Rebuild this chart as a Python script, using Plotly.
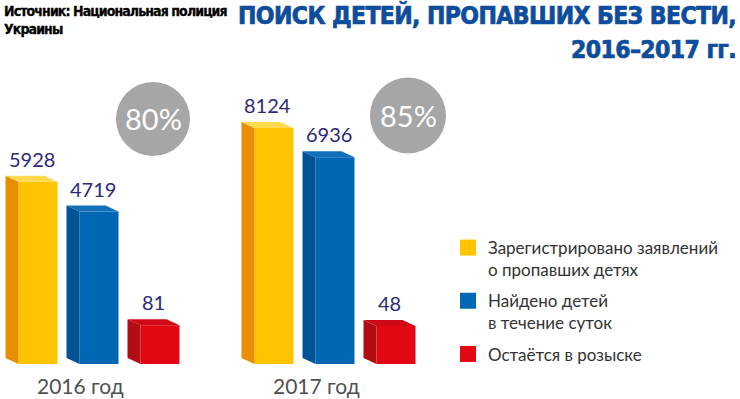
import plotly.graph_objects as go

# ---- data ----
years = ["2016 год", "2017 год"]
series_names = [
    "Зарегистрировано заявлений<br>о пропавших детях",
    "Найдено детей<br>в течение суток",
    "Остаётся в розыске",
]
registered = [5928, 8124]
found = [4719, 6936]
wanted = [81, 48]
series_values = [registered, found, wanted]

title_lines = ["ПОИСК ДЕТЕЙ, ПРОПАВШИХ БЕЗ ВЕСТИ,", "2016–2017 гг."]
source_text = "Источник: Национальная полиция<br>Украины"

# ---- styles ----
front_cols = ["rgb(255,196,0)", "rgb(0,104,178)", "rgb(227,6,19)"]
side_cols = ["rgb(232,142,0)", "rgb(0,84,150)", "rgb(180,12,20)"]
top_cols = ["rgb(255,218,80)", "rgb(18,112,186)", "rgb(205,10,22)"]
num_col = "rgb(43,41,120)"
title_col = "rgb(14,76,156)"
sans = "Lato, Open Sans, sans-serif"
cond = "DejaVu Sans Condensed, Liberation Sans Narrow, sans-serif"

W, H = 740, 399
MB = 30
PH = H - MB
PX_PER_X = 236.0          # pixels per category unit
X0_PX = 99.0              # pixel of first category centre
FLOOR = -1500.0           # visual floor of the bars (hidden axis)
FLOOR_PX = 364.0
TOP_REF_PX = 128.0        # pixel of the tallest bar's top
UPP = (max(registered) - FLOOR) / (FLOOR_PX - TOP_REF_PX)  # units per pixel
Y_HI = FLOOR + FLOOR_PX * UPP
Y_LO = FLOOR - (PH - FLOOR_PX) * UPP

bar_w = 39 / PX_PER_X
pitch = 61 / PX_PER_X
dx = 13 / PX_PER_X        # depth to the left
dy = 6 * UPP              # depth upward

fig = go.Figure()
for i, (name, vals) in enumerate(zip(series_names, series_values)):
    off = (i - 1) * pitch - bar_w / 2
    fig.add_trace(go.Bar(
        x=list(range(len(years))), y=[v - FLOOR for v in vals], base=FLOOR,
        offset=off, width=bar_w, name=name, legendgroup=str(i), showlegend=False,
        marker=dict(color=front_cols[i], line=dict(width=0)),
        customdata=vals, hovertemplate="%{customdata}<extra></extra>",
    ))
    sx, sy, tx, ty = [], [], [], []
    for g, v in enumerate(vals):
        xl = g + off
        xr = xl + bar_w
        sx += [xl, xl, xl - dx, xl - dx, xl, None]
        sy += [FLOOR, v, v + dy, FLOOR + dy, FLOOR, None]
        tx += [xl, xr, xr - dx, xl - dx, xl, None]
        ty += [v, v, v + dy, v + dy, v, None]
        fig.add_annotation(
            x=xl + (bar_w - dx) / 2, y=v + dy, xref="x", yref="y",
            text=str(v), showarrow=False, xanchor="center", yanchor="bottom", yshift=3,
            font=dict(family=sans, size=20, color=num_col),
        )
    fig.add_trace(go.Scatter(x=sx, y=sy, fill="toself", mode="lines",
                             line=dict(width=0), fillcolor=side_cols[i],
                             showlegend=False, hoverinfo="skip", legendgroup=str(i)))
    fig.add_trace(go.Scatter(x=tx, y=ty, fill="toself", mode="lines",
                             line=dict(width=0), fillcolor=top_cols[i],
                             showlegend=False, hoverinfo="skip", legendgroup=str(i)))
    # legend entry (square swatch)
    fig.add_trace(go.Scatter(x=[None], y=[None], mode="markers", name=name,
                             legendgroup=str(i),
                             marker=dict(symbol="square", size=16, color=front_cols[i])))

# year labels under the groups
for g, lab in enumerate(years):
    fig.add_annotation(x=g, y=0, xref="x", yref="paper", text=lab, showarrow=False,
                       xshift=-19, xanchor="center", yanchor="middle", yshift=-16,
                       font=dict(family=sans, size=21, color="rgb(80,80,80)"))

# percentage circles (found / registered)
circle_px = [(153, 119, 37), (408, 115.5, 38)]
for (cx, cy, r), f, reg in zip(circle_px, found, registered):
    pct = round(100 * f / reg)
    fig.add_shape(type="circle", xref="paper", yref="paper",
                  x0=(cx - r) / W, x1=(cx + r) / W,
                  y0=1 - (cy + r) / PH, y1=1 - (cy - r) / PH,
                  fillcolor="rgb(166,166,166)", line=dict(width=0), layer="above")
    fig.add_annotation(x=cx / W, y=1 - cy / PH, xref="paper", yref="paper",
                       xanchor="center", yanchor="middle",
                       text=f"{pct}%", showarrow=False,
                       font=dict(family=sans, size=29, color="white"))

title_y = [15, 50]
for line, ty_px in zip(title_lines, title_y):
    fig.add_annotation(
        x=1, y=1 - ty_px / PH, xref="paper", yref="paper", xanchor="right",
        yanchor="middle", xshift=-2,
        text=(f"<span style='letter-spacing:-0.6px;stroke:{title_col};"
              f"stroke-width:0.7px'><b>{line}</b></span>"),
        showarrow=False,
        font=dict(family=cond, size=24.5, color=title_col))
fig.add_annotation(
    x=2 / W, y=1 - 1 / PH, xref="paper", yref="paper", xanchor="left",
    yanchor="top",
    text=(f"<span style='letter-spacing:-0.9px;stroke:black;stroke-width:0.3px'>"
          f"<b>{source_text}</b></span>"),
    align="left", showarrow=False,
    font=dict(family=cond, size=14, color="black"))

fig.update_layout(
    width=W, height=H, margin=dict(l=0, r=0, t=0, b=MB),
    paper_bgcolor="white", plot_bgcolor="rgba(0,0,0,0)", barmode="overlay",
    xaxis=dict(range=[-X0_PX / PX_PER_X, (W - X0_PX) / PX_PER_X],
               showticklabels=False, showgrid=False, zeroline=False, showline=False,
               ticks="", fixedrange=True),
    yaxis=dict(range=[Y_LO, Y_HI], visible=False, fixedrange=True),
    legend=dict(x=448 / W, y=1 - 230 / PH, xanchor="left", yanchor="top",
                font=dict(family=sans, size=17, color="rgb(50,50,50)"),
                valign="top", tracegroupgap=6, itemsizing="trace",
                bgcolor="rgba(0,0,0,0)"),
    showlegend=True,
)

fig.write_html("out.html", config={"displayModeBar": False},
               post_script="document.body.style.margin='0';")
